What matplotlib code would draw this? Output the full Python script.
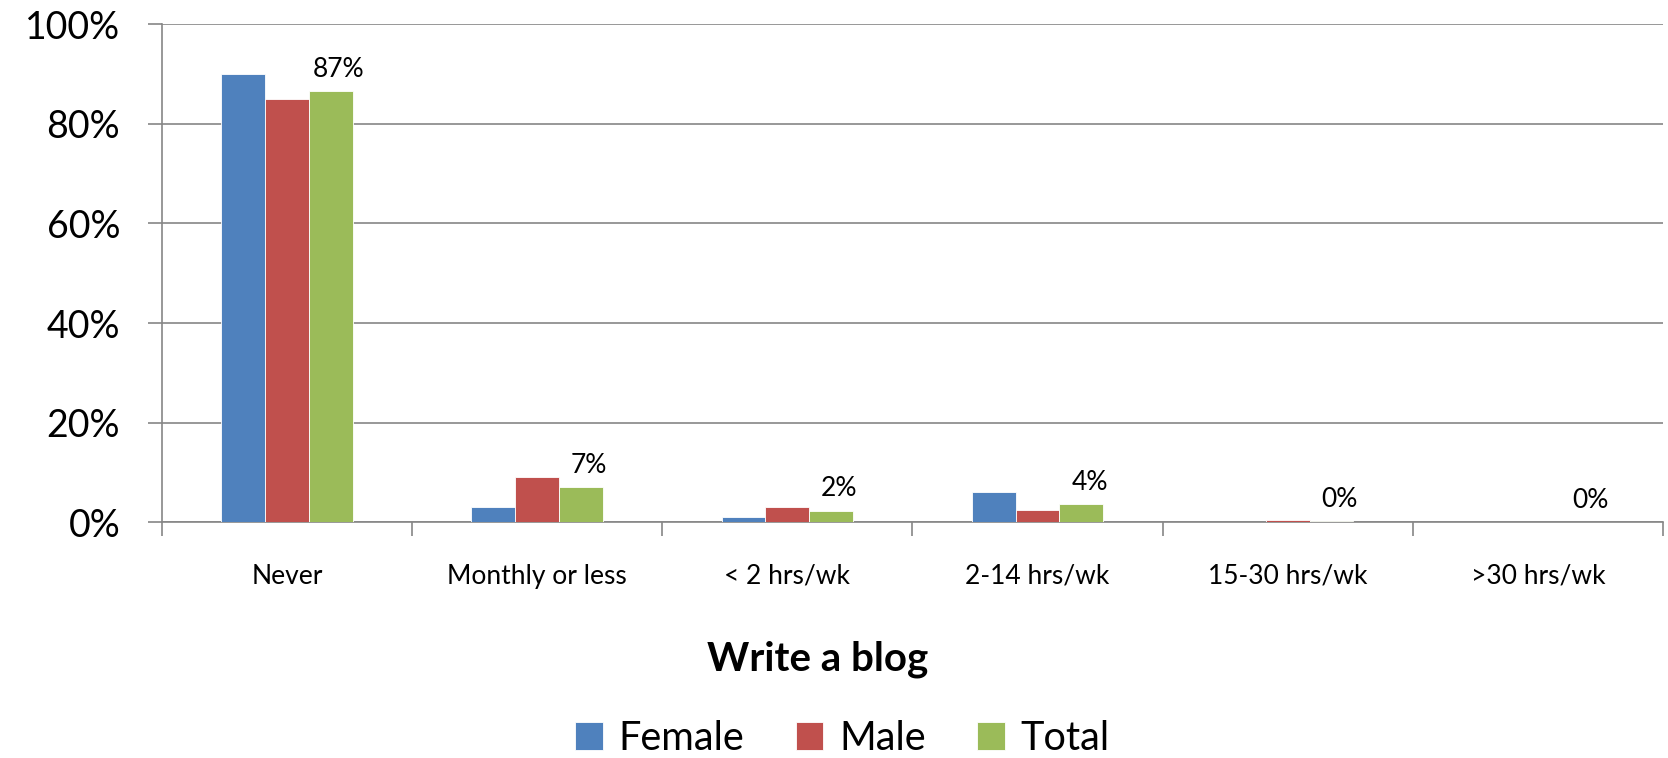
import matplotlib
matplotlib.use("Agg")
import matplotlib.pyplot as plt
import numpy as np

categories = ["Never", "Monthly or less", "< 2 hrs/wk", "2-14 hrs/wk", "15-30 hrs/wk", ">30 hrs/wk"]
female = [90.0, 3.0, 1.0, 6.0, 0.0, 0.0]
male = [85.0, 9.0, 3.0, 2.5, 0.4, 0.0]
total = [86.5, 7.0, 2.3, 3.6, 0.2, 0.0]
total_labels = ["87%", "7%", "2%", "4%", "0%", "0%"]
series_names = ["Female", "Male", "Total"]
colors = ["#4F81BD", "#C0504D", "#9BBB59"]
yticks = [0, 20, 40, 60, 80, 100]
ytick_labels = ["0%", "20%", "40%", "60%", "80%", "100%"]

plt.rcParams['font.family'] = ['Lato', 'DejaVu Sans']

fig = plt.figure(figsize=(16.68, 7.58), dpi=100)
ax = fig.add_axes([0.097, 0.311, 0.900, 0.657])

x = np.arange(len(categories))
w = 0.175
for i, (vals, name, c) in enumerate(zip([female, male, total], series_names, colors)):
    ax.bar(x + (i - 1) * w, vals, width=w, color=c, edgecolor="white", linewidth=0.6, label=name, zorder=3)

for xi, v, lab in zip(x, total, total_labels):
    ax.annotate(lab, (xi + w, v), xytext=(6, 7), textcoords="offset points",
                ha="center", va="bottom", fontsize=19, color="black")

ax.set_xlim(-0.5, len(categories) - 0.5)
ax.set_ylim(0, 100)
ax.set_yticks(yticks)
ax.set_yticklabels(ytick_labels, fontsize=27)
ax.yaxis.grid(True, color="#868686", linewidth=1.2, zorder=0)
ax.set_axisbelow(True)
ax.set_xticks(x)
ax.set_xticklabels(categories, fontsize=19)
ax.set_xticks(np.arange(-0.5, len(categories)), minor=True)
ax.tick_params(axis="x", which="major", length=0, pad=30)
ax.tick_params(axis="x", which="minor", length=10, width=1.2, color="#868686", direction="out")
ax.tick_params(axis="y", length=10, width=1.2, color="#868686", direction="out", pad=20)
for s in ["top", "right"]:
    ax.spines[s].set_visible(False)
for s in ["left", "bottom"]:
    ax.spines[s].set_color("#868686")
    ax.spines[s].set_linewidth(1.2)

fig.text(0.49, 0.13, "Write a blog", ha="center", va="center", fontsize=29, fontweight="bold")

handles, labels = ax.get_legend_handles_labels()
fig.legend(handles, labels, loc="center", bbox_to_anchor=(0.505, 0.026), ncol=3, frameon=False,
           fontsize=28.5, handlelength=0.7, handleheight=0.7, handletextpad=0.4, columnspacing=1.3,
           borderpad=0.0)

fig.savefig("out.png", dpi=100)
